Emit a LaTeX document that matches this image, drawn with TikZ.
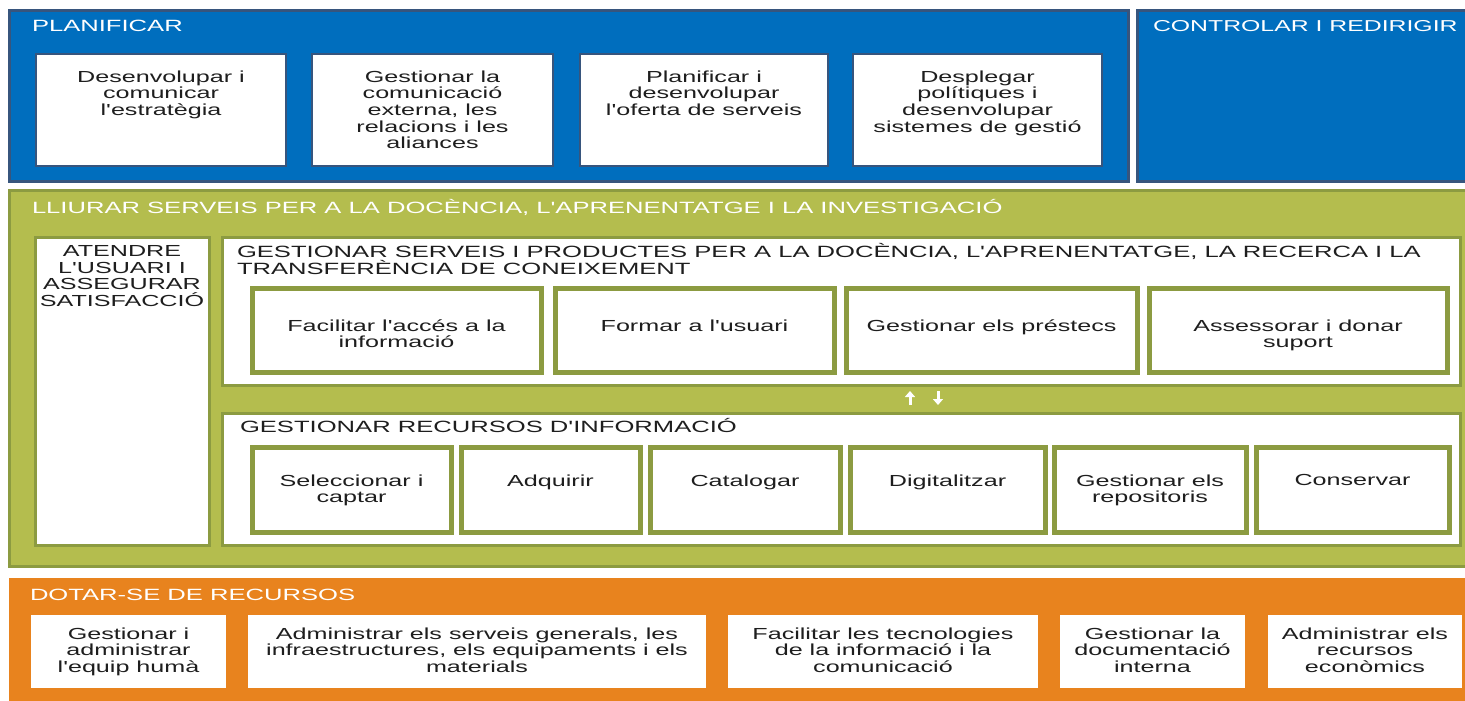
\documentclass[tikz,border=0pt]{standalone}
\usepackage{fontspec}
\newfontfamily\diagfont{Liberation Sans}[FakeStretch=1.57]
\usepackage{tikz}
\usetikzlibrary{positioning,arrows.meta}

\definecolor{planblue}{RGB}{0,110,190}
\definecolor{blueline}{RGB}{55,85,125}
\definecolor{lliurgreen}{RGB}{180,189,78}
\definecolor{greenline}{RGB}{140,155,65}
\definecolor{dotarorange}{RGB}{232,131,30}
\definecolor{txtgray}{RGB}{30,30,30}

\begin{document}
\begin{tikzpicture}[x=1pt, y=-1pt,
  every node/.style={inner sep=0pt, outer sep=0pt},
  bluepanel/.style={draw=blueline, fill=planblue, line width=3pt, anchor=north west, minimum height=170pt},
  greenpanel/.style={draw=greenline, fill=lliurgreen, line width=3pt, anchor=north west},
  orangepanel/.style={fill=dotarorange, anchor=north west},
  pbox/.style={draw=blueline, fill=white, line width=2pt, anchor=north west, minimum height=112pt},
  wpanel/.style={draw=greenline, fill=white, line width=3pt, anchor=north west},
  gbox/.style={draw=greenline, fill=white, line width=5pt, anchor=north west},
  obox/.style={fill=white, anchor=north west, minimum height=73pt},
  txt/.style={text=txtgray, align=center, font=\diagfont\fontsize{16pt}{16.7pt}\selectfont},
  head/.style={text=white, anchor=base west, font=\diagfont\fontsize{16.3pt}{16.7pt}\selectfont},
  whead/.style={text=txtgray, align=left, font=\diagfont\fontsize{16.3pt}{16.2pt}\selectfont},
  flow/.style={draw=white, line width=3pt, -{Triangle[length=6pt,width=10pt]}}]
\useasboundingbox (0,0) rectangle (1465,701);

% planificar / controlar
\node[bluepanel, minimum width=1119pt] (plan) at (9,11) {};
\node[bluepanel, minimum width=340pt] (ctrl) at (1137,11) {};
\node[head] (planh) at (32,31.7) {PLANIFICAR};
\node[head, font=\diagfont\fontsize{15.8pt}{16.7pt}\selectfont] (ctrlh) at (1153,31.7) {CONTROLAR I REDIRIGIR};

\node[pbox, minimum width=250pt] (p1) at (36,54) {};
\node[pbox, minimum width=241pt] (p2) at (312,54) {};
\node[pbox, minimum width=248pt] (p3) at (580,54) {};
\node[pbox, minimum width=249pt] (p4) at (853,54) {};
\node[txt, below=16.5pt of p1.north] (p1t) {Desenvolupar i\\comunicar\\l'estratègia};
\node[txt, below=16.5pt of p2.north] (p2t) {Gestionar la\\comunicació\\externa, les\\relacions i les\\aliances};
\node[txt, below=16.5pt of p3.north] (p3t) {Planificar i\\desenvolupar\\l'oferta de serveis};
\node[txt, below=16.5pt of p4.north] (p4t) {Desplegar\\polítiques i\\desenvolupar\\sistemes de gestió};

% lliurar serveis
\node[greenpanel, minimum width=1470pt, minimum height=376pt] (lliur) at (9,190) {};
\node[head] (lliurh) at (32,213.7) {LLIURAR SERVEIS PER A LA DOCÈNCIA, L'APRENENTATGE I LA INVESTIGACIÓ};

\node[wpanel, minimum width=174pt, minimum height=308pt] (aten) at (35,237) {};
\node[txt, font=\diagfont\fontsize{16pt}{16.6pt}\selectfont, below=8.5pt of aten.north] (atent) {ATENDRE\\L'USUARI I\\ASSEGURAR\\SATISFACCIÓ};

\node[wpanel, minimum width=1238pt, minimum height=148pt] (serv) at (222,237) {};
\node[whead, anchor=north west] (servh) at (237,243) {GESTIONAR SERVEIS I PRODUCTES PER A LA DOCÈNCIA, L'APRENENTATGE, LA RECERCA I LA\\TRANSFERÈNCIA DE CONEIXEMENT};
\node[gbox, minimum width=289pt, minimum height=84pt] (s1) at (252,288) {};
\node[gbox, minimum width=279pt, minimum height=84pt] (s2) at (555,288) {};
\node[gbox, minimum width=291pt, minimum height=84pt] (s3) at (846,288) {};
\node[gbox, minimum width=298pt, minimum height=84pt] (s4) at (1149,288) {};
\node[txt, below=31.5pt of s1.north] (s1t) {Facilitar l'accés a la\\informació};
\node[txt, below=31.5pt of s2.north] (s2t) {Formar a l'usuari};
\node[txt, below=31.5pt of s3.north] (s3t) {Gestionar els préstecs};
\node[txt, below=31.5pt of s4.north] (s4t) {Assessorar i donar\\suport};

\coordinate (upS) at (910,405);
\coordinate (upE) at (910,391);
\coordinate (dnS) at (938,391);
\coordinate (dnE) at (938,405);
\draw[flow] (upS) -- (upE);
\draw[flow] (dnS) -- (dnE);

\node[wpanel, minimum width=1238pt, minimum height=132pt] (recu) at (222,413) {};
\node[head, text=txtgray] (recuh) at (240,432.7) {GESTIONAR RECURSOS D'INFORMACIÓ};
\node[gbox, minimum width=199pt, minimum height=85pt] (r1) at (252,447) {};
\node[gbox, minimum width=179pt, minimum height=85pt] (r2) at (461,447) {};
\node[gbox, minimum width=190pt, minimum height=85pt] (r3) at (650,447) {};
\node[gbox, minimum width=195pt, minimum height=85pt] (r4) at (850,447) {};
\node[gbox, minimum width=192pt, minimum height=85pt] (r5) at (1054,447) {};
\node[gbox, minimum width=193pt, minimum height=85pt] (r6) at (1256,447) {};
\node[txt, below=27.5pt of r1.north] (r1t) {Seleccionar i\\captar};
\node[txt, below=27.5pt of r2.north] (r2t) {Adquirir};
\node[txt, below=27.5pt of r3.north] (r3t) {Catalogar};
\node[txt, below=27.5pt of r4.north] (r4t) {Digitalitzar};
\node[txt, below=27.5pt of r5.north] (r5t) {Gestionar els\\repositoris};
\node[txt, below=27.5pt of r6.north] (r6t) {Conservar};

% dotar-se de recursos
\node[orangepanel, minimum width=1470pt, minimum height=140pt] (dotar) at (9,578) {};
\node[head] (dotarh) at (30,600.7) {DOTAR-SE DE RECURSOS};
\node[obox, minimum width=195pt] (o1) at (31,615) {};
\node[obox, minimum width=458pt] (o2) at (248,615) {};
\node[obox, minimum width=310pt] (o3) at (728,615) {};
\node[obox, minimum width=185pt] (o4) at (1060,615) {};
\node[obox, minimum width=194pt] (o5) at (1268,615) {};
\node[txt, below=12.5pt of o1.north] (o1t) {Gestionar i\\administrar\\l'equip humà};
\node[txt, below=12.5pt of o2.north] (o2t) {Administrar els serveis generals, les\\infraestructures, els equipaments i els\\materials};
\node[txt, below=12.5pt of o3.north] (o3t) {Facilitar les tecnologies\\de la informació i la\\comunicació};
\node[txt, below=12.5pt of o4.north] (o4t) {Gestionar la\\documentació\\interna};
\node[txt, below=12.5pt of o5.north] (o5t) {Administrar els\\recursos\\econòmics};
\end{tikzpicture}
\end{document}
